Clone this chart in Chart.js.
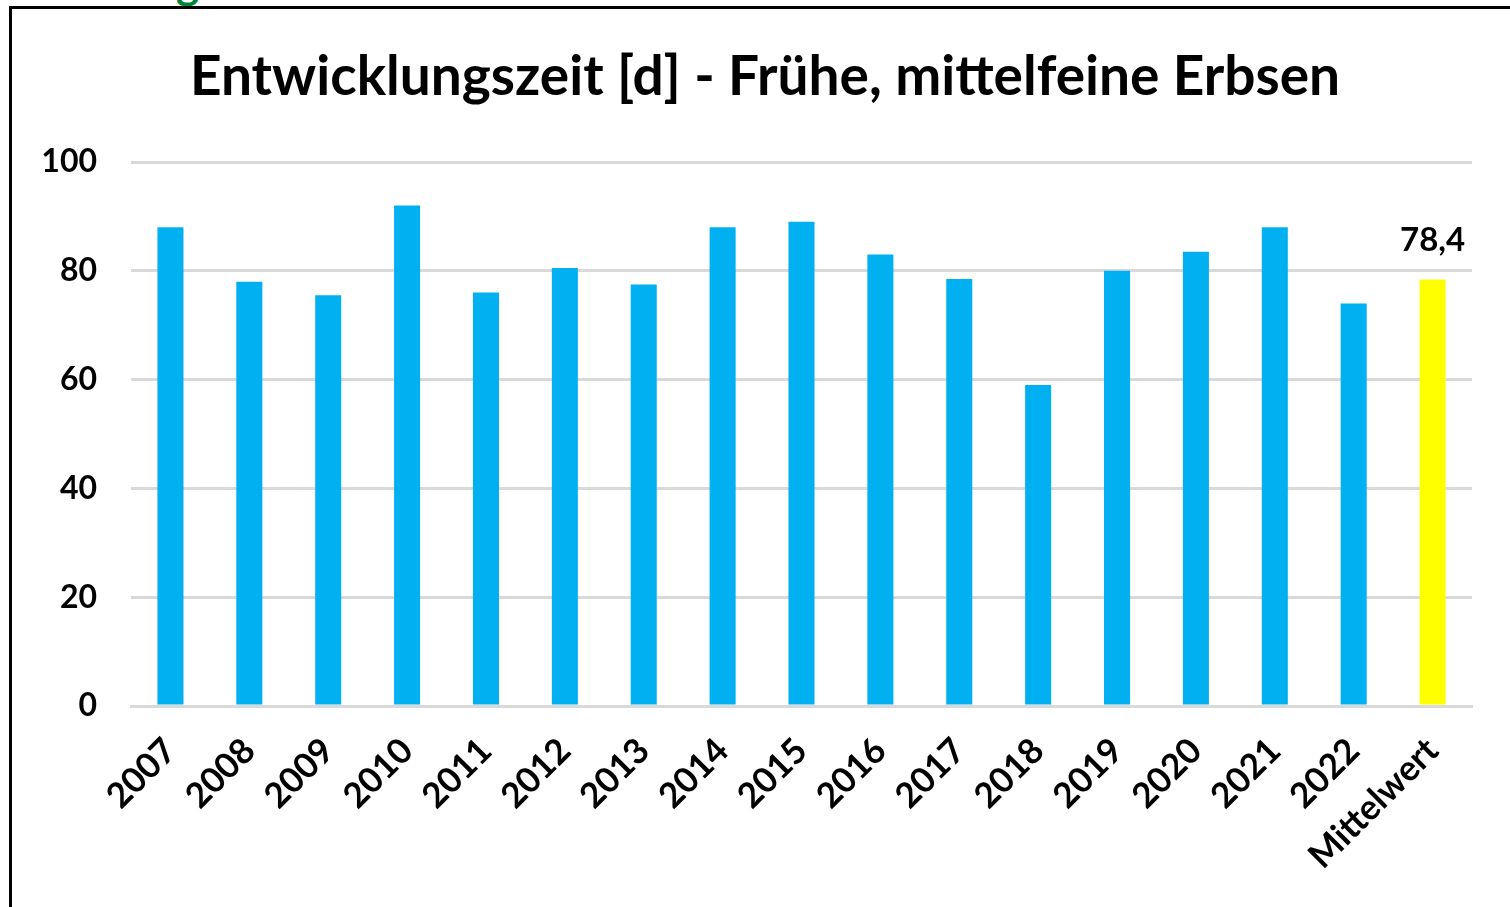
<!DOCTYPE html>
<html>
<head>
<meta charset="utf-8">
<script src="https://cdn.jsdelivr.net/npm/chart.js@4/dist/chart.umd.min.js"></script>
<style>
  body { margin: 0; background: #fff; overflow: hidden; }
  #wrap { position: relative; width: 1510px; height: 907px; }
  #frame { position: absolute; left: 9px; top: 6px; width: 1510px; height: 910px;
           border-top: 3px solid #000; border-left: 3px solid #000; }
  #cut { position: absolute; left: 176px; top: -44px; font: bold 44px Lato, sans-serif; color: #00843d; }
  canvas { position: absolute; left: 0; top: 0; }
</style>
</head>
<body>
<div id="wrap">
  <div id="cut">g</div>
  <div id="frame"></div>
  <canvas id="bar-chart" width="1510" height="907"></canvas>
</div>
<script>
// Data
const chartTitle = 'Entwicklungszeit [d] - Frühe, mittelfeine Erbsen';
const years = ['2007', '2008', '2009', '2010', '2011', '2012', '2013', '2014', '2015',
               '2016', '2017', '2018', '2019', '2020', '2021', '2022', 'Mittelwert'];
const days = [88, 78, 75.5, 92, 76, 80.5, 77.5, 88, 89, 83, 78.5, 59, 80, 83.5, 88, 74, 78.4];
const yTicks = [0, 20, 40, 60, 80, 100];

const barColors = years.map((y) => (y === 'Mittelwert' ? '#FFFF00' : '#00B0F0'));

// Title, centred over the whole frame (not only the plot area)
const titleText = {
  id: 'titleText',
  afterDraw(chart) {
    const ctx = chart.ctx;
    ctx.save();
    ctx.font = 'bold 55px Lato';
    ctx.fillStyle = '#000';
    ctx.textAlign = 'center';
    ctx.textBaseline = 'alphabetic';
    ctx.fillText(chartTitle, 765, 95);
    ctx.restore();
  }
};

// Value label only above the mean bar
const meanLabel = {
  id: 'meanLabel',
  afterDatasetsDraw(chart) {
    const meta = chart.getDatasetMeta(0);
    const idx = years.indexOf('Mittelwert');
    const bar = meta.data[idx];
    const ctx = chart.ctx;
    ctx.save();
    ctx.font = 'bold 33px Lato';
    ctx.fillStyle = '#000';
    ctx.textAlign = 'center';
    ctx.textBaseline = 'bottom';
    ctx.fillText(days[idx].toFixed(1).replace('.', ','), bar.x, bar.y - 23);
    ctx.restore();
  }
};

const chart = new Chart(document.querySelector('#bar-chart'), {
  type: 'bar',
  data: {
    labels: years,
    datasets: [{
      data: days,
      backgroundColor: barColors,
      barPercentage: 0.33,
      categoryPercentage: 1
    }]
  },
  options: {
    responsive: false,
    animation: false,
    layout: { padding: { left: 0, right: 38, top: 162, bottom: 0 } },
    plugins: {
      legend: { display: false },
      tooltip: { enabled: false },
      title: { display: false }
    },
    scales: {
      x: {
        grid: { display: false },
        border: { color: '#D9D9D9', width: 3 },
        ticks: {
          color: '#000',
          font: { family: 'Lato', size: 35, weight: 'bold' },
          minRotation: 45,
          maxRotation: 45,
          padding: 16
        },
        afterFit(scale) { scale.height = 201; }
      },
      y: {
        min: 0,
        max: 100,
        border: { display: false },
        grid: { color: '#D9D9D9', lineWidth: 3, drawTicks: false },
        afterBuildTicks(scale) { scale.ticks = yTicks.map((v) => ({ value: v })); },
        ticks: {
          color: '#000',
          font: { family: 'Lato', size: 32, weight: 'bold' },
          padding: 34
        },
        afterFit(scale) { scale.width = 131; }
      }
    }
  },
  plugins: [titleText, meanLabel]
});
</script>
</body>
</html>
